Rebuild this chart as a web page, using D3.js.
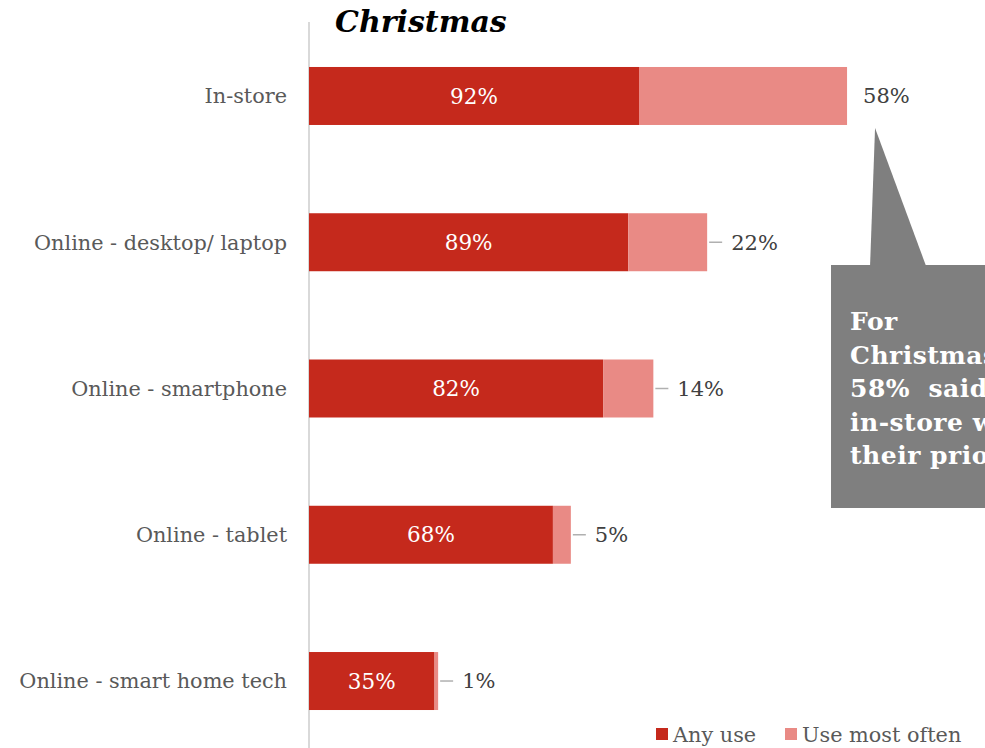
<!DOCTYPE html>
<html>
<head>
<meta charset="utf-8">
<script src="https://cdn.jsdelivr.net/npm/d3@7/dist/d3.min.js"></script>
<style>
  html, body { margin: 0; padding: 0; background: #ffffff; }
  svg { display: block; }
</style>
</head>
<body>
<svg id="chart" width="985" height="748"></svg>
<script>
// Channels used for holiday shopping
const categories = [
  "In-store",
  "Online - desktop/ laptop",
  "Online - smartphone",
  "Online - tablet",
  "Online - smart home tech"
];
const anyUse = [92, 89, 82, 68, 35];
const mostOften = [58, 22, 14, 5, 1];
const seriesNames = ["Any use", "Use most often"];
const calloutLines = ["For", "Christmas,", "58%  said", "in-store was", "their priority"];

const W = 985, H = 748;
const FONT = "'DejaVu Serif', Georgia, serif";
const RED = "#c5291c";
const PINK = "#e98a85";

const svg = d3.select("#chart");

const x = d3.scaleLinear().domain([0, 100]).range([309, 309 + 358.7]);
const y = d3.scaleBand()
  .domain(categories)
  .range([22.85, 754.15])
  .paddingInner(0.6035)
  .paddingOuter(0.30175);

const rows = categories.map((c, i) => ({ cat: c, a: anyUse[i], b: mostOften[i] }));

// Title
svg.append("text")
  .attr("x", 335).attr("y", 32)
  .attr("font-family", FONT)
  .attr("font-size", 30)
  .attr("font-weight", "bold")
  .attr("font-style", "italic")
  .attr("fill", "#000")
  .text("Christmas");

// Category axis line
svg.append("line")
  .attr("x1", x(0)).attr("x2", x(0))
  .attr("y1", 22).attr("y2", H)
  .attr("stroke", "#d9d9d9").attr("stroke-width", 2);

// Category labels
svg.append("g").selectAll("text").data(rows).join("text")
  .attr("x", x(0) - 22)
  .attr("y", d => y(d.cat) + y.bandwidth() / 2)
  .attr("dy", "0.35em")
  .attr("text-anchor", "end")
  .attr("font-family", FONT)
  .attr("font-size", 20.8)
  .attr("fill", "#595959")
  .text(d => d.cat);

// "Any use" segments
svg.append("g").selectAll("rect").data(rows).join("rect")
  .attr("x", x(0))
  .attr("y", d => y(d.cat))
  .attr("width", d => x(d.a) - x(0))
  .attr("height", y.bandwidth())
  .attr("fill", RED);

// "Use most often" segments, stacked after
svg.append("g").selectAll("rect").data(rows).join("rect")
  .attr("x", d => x(d.a))
  .attr("y", d => y(d.cat))
  .attr("width", d => x(d.a + d.b) - x(d.a))
  .attr("height", y.bandwidth())
  .attr("fill", PINK);

// Values inside the red segments
svg.append("g").selectAll("text").data(rows).join("text")
  .attr("x", d => (x(0) + x(d.a)) / 2)
  .attr("y", d => y(d.cat) + y.bandwidth() / 2)
  .attr("dy", "0.35em")
  .attr("text-anchor", "middle")
  .attr("font-family", FONT)
  .attr("font-size", 21.5)
  .attr("fill", "#ffffff")
  .text(d => d.a + "%");

// Leader lines to the outside labels
svg.append("g").selectAll("line").data(rows.filter((d, i) => i > 0)).join("line")
  .attr("x1", d => x(d.a + d.b) + 2)
  .attr("x2", d => x(d.a + d.b) + 15)
  .attr("y1", d => y(d.cat) + y.bandwidth() / 2)
  .attr("y2", d => y(d.cat) + y.bandwidth() / 2)
  .attr("stroke", "#b0b0b0").attr("stroke-width", 1.5);

// Outside value labels
svg.append("g").selectAll("text").data(rows).join("text")
  .attr("x", (d, i) => x(d.a + d.b) + (i === 0 ? 16 : 24))
  .attr("y", d => y(d.cat) + y.bandwidth() / 2)
  .attr("dy", "0.35em")
  .attr("font-family", FONT)
  .attr("font-size", 21)
  .attr("fill", "#404040")
  .text(d => d.b + "%");

// Callout pointing at the in-store "most often" value
const first = rows[0];
const tipX = x(first.a + first.b) + 28;
const tipY = y(first.cat) + y.bandwidth() + 3;
const boxX = 831, boxY = 265, boxB = 508;
const callout = svg.append("g");
callout.append("path")
  .attr("d", `M${tipX},${tipY} L${tipX - 5},${boxY + 1} L${tipX + 51},${boxY + 1} Z`)
  .attr("fill", "#7f7f7f");
callout.append("rect")
  .attr("x", boxX).attr("y", boxY)
  .attr("width", 200).attr("height", boxB - boxY)
  .attr("fill", "#7f7f7f");
callout.append("text")
  .attr("font-family", FONT)
  .attr("font-size", 25)
  .attr("font-weight", "bold")
  .attr("letter-spacing", 0.5)
  .attr("fill", "#ffffff")
  .style("white-space", "pre")
  .selectAll("tspan").data(calloutLines).join("tspan")
  .attr("x", 850)
  .attr("y", (d, i) => 330 + i * 33.6)
  .text(d => d);

// Legend
const legend = svg.append("g");
const legendX = [656, 785];
const legendColors = [RED, PINK];
seriesNames.forEach((name, i) => {
  legend.append("rect")
    .attr("x", legendX[i]).attr("y", 728)
    .attr("width", 12).attr("height", 12)
    .attr("fill", legendColors[i]);
  legend.append("text")
    .attr("x", legendX[i] + 17).attr("y", 742)
    .attr("font-family", FONT)
    .attr("font-size", 20.8)
    .attr("fill", "#595959")
    .text(name);
});
</script>
</body>
</html>
